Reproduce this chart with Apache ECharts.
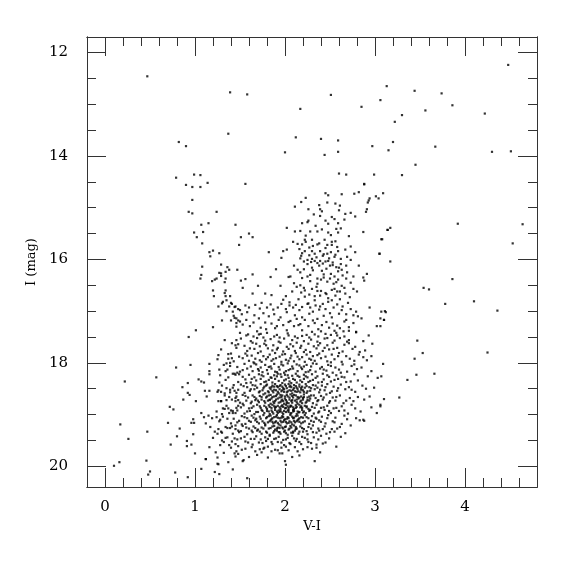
<!DOCTYPE html>
<html><head><meta charset="utf-8">
<script src="https://cdn.jsdelivr.net/npm/echarts@6/dist/echarts.min.js"></script>
<style>html,body{margin:0;padding:0;background:#fff}#chart{width:575px;height:575px}</style>
</head><body><div id="chart"></div>
<script>
// Tick values
const xMajor = [0, 1, 2, 3, 4];
const xMinor = [0.2,0.4,0.6,0.8,1.2,1.4,1.6,1.8,2.2,2.4,2.6,2.8,3.2,3.4,3.6,3.8,4.2,4.4,4.6];
const yMajor = [12, 14, 16, 18, 20];
const yMinor = [12.5,13,13.5,14.5,15,15.5,16.5,17,17.5,18.5,19,19.5];

// Stars brighter than I ~ 15
const brightStars = [[0.47,12.46],[1.39,12.77],[1.37,13.57],[0.82,13.73],[0.90,13.81],[0.79,14.42],[0.99,14.36],[1.06,14.37],[1.14,14.52],[0.90,14.56],[0.97,14.60],[1.06,14.60],
[1.58,12.81],[3.13,12.65],[2.51,12.82],[3.06,12.92],[2.17,13.09],[2.85,13.05],[2.12,13.64],[2.40,13.67],[2.59,13.70],[2.97,13.81],[3.15,13.89],[2.00,13.93],[2.44,13.98],[2.59,13.92],[2.60,14.34],[2.68,14.36],[2.99,14.36],[1.56,14.54],[2.88,14.54],
[4.48,12.24],[3.44,12.74],[3.74,12.79],[3.86,13.02],[3.56,13.12],[3.30,13.21],[4.22,13.18],[3.22,13.34],[3.20,13.73],[3.67,13.82],[4.30,13.92],[4.51,13.91],[3.45,14.17],[3.30,14.37],
[3.09,14.72],[0.97,14.85]];

// Blue plume
const bluePlume = [[0.93,15.08],[0.97,15.11],[1.24,15.08],[1.07,15.33],[1.15,15.30],[1.45,15.33],[0.99,15.48],[1.09,15.47],[1.02,15.57],[1.49,15.72],[1.08,15.69],[1.16,15.86],[1.20,15.83],[1.27,15.88],[1.17,15.94],
[1.08,16.14],[1.29,16.10],[1.36,16.15],[1.38,16.20],[1.34,16.24],[1.27,16.26],[1.29,16.27],[1.07,16.30],[1.29,16.32],[1.24,16.37],[1.34,16.37],[1.06,16.37],[1.22,16.39],[1.19,16.42],[1.33,16.44],[1.47,16.20],[1.51,16.41],
[1.20,16.60],[1.34,16.60],[1.33,16.65],[1.21,16.71],[1.34,16.71],[1.39,16.71],[1.35,16.79],[1.31,16.82],[1.30,16.85],[1.41,16.86],[1.38,16.91],[1.44,16.92],[1.26,16.91],[1.48,16.96],[1.35,17.00],[1.43,17.09],[1.52,17.06],[1.46,17.14],[1.30,17.18],[1.40,17.18],[1.46,17.23],[1.50,17.20],[1.46,17.30],[1.20,17.31],[1.01,17.37],[0.93,17.50]];

// Giant branch region
const giantBranch = [[2.88,14.55],[2.45,14.72],[2.48,14.76],[2.63,14.74],[2.77,14.73],[2.82,14.70],[2.23,14.81],[2.18,14.89],[2.11,14.98],[2.26,15.03],[2.39,15.03],[2.41,15.07],[2.56,14.92],[2.61,14.96],[2.93,14.86],[2.92,14.90],[2.94,14.82],[3.01,14.78],[3.04,14.82],[2.91,15.03],[2.90,15.08],
[2.32,15.13],[2.39,15.16],[2.26,15.25],[2.25,15.28],[2.19,15.30],[2.45,15.25],[2.52,15.18],[2.59,15.30],[2.66,15.23],[2.73,15.10],[2.78,15.17],[2.02,15.39],[2.11,15.46],[2.17,15.45],[2.23,15.54],[2.28,15.46],[2.36,15.46],[2.48,15.48],[2.51,15.53],[2.57,15.41],[2.59,15.48],[2.62,15.40],[2.87,15.47],[3.14,15.43],[3.08,15.61],
[1.51,15.57],[1.60,15.50],[1.64,15.57],[2.09,15.66],[2.14,15.70],[2.19,15.71],[2.22,15.62],[2.30,15.62],[2.36,15.71],[2.44,15.62],[2.47,15.72],[2.52,15.72],[2.56,15.65],[2.67,15.81],[2.73,15.75],[2.78,15.86],[2.82,16.12],[2.02,15.81],[1.98,15.84],[1.96,15.97],[1.82,15.86],
[2.16,15.80],[2.19,15.88],[2.22,15.84],[2.27,15.77],[2.30,15.84],[2.33,15.89],[2.39,15.84],[2.43,15.90],[2.47,15.89],[2.51,15.86],[2.55,15.95],[2.59,15.84],[2.17,15.98],[2.21,16.04],[2.25,16.01],[2.30,15.99],[2.33,16.03],[2.36,16.07],[2.39,16.03],[2.42,16.08],[2.45,16.04],[2.50,16.12],[2.53,16.11],[2.57,16.15],[2.60,16.16],[2.63,16.20],[2.68,16.12],[2.69,16.25],[2.73,16.01],[2.76,16.33],[2.91,16.28],[2.88,16.41],[3.05,15.89],
[2.10,16.12],[2.14,16.20],[2.17,16.25],[2.21,16.19],[2.25,16.33],[2.28,16.30],[2.31,16.21],[2.36,16.37],[2.40,16.39],[2.43,16.29],[2.47,16.43],[2.50,16.37],[2.54,16.47],[2.59,16.39],[2.63,16.51],[2.68,16.37],[2.04,16.34],[2.06,16.33],[1.90,16.19],[1.84,16.34],[1.56,16.38],[1.64,16.29],
[1.53,16.55],[1.64,16.66],[1.70,16.51],[1.78,16.66],[1.85,16.69],[1.95,16.51],[2.01,16.71],[2.10,16.46],[2.13,16.53],[2.17,16.50],[2.18,16.64],[2.22,16.60],[2.27,16.68],[2.30,16.57],[2.33,16.71],[2.36,16.61],[2.39,16.70],[2.45,16.65],[2.48,16.75],[2.52,16.59],[2.56,16.70],[2.61,16.62],[2.67,16.66],[2.72,16.73],[2.76,16.57],[2.94,16.93],[3.07,17.01],[3.11,17.00],[2.87,16.35],
[1.40,16.84],[1.45,16.91],[1.42,17.01],[1.50,16.98],[1.56,16.89],[1.60,16.93],[1.67,16.88],[1.72,16.95],[1.74,16.84],[1.80,16.93],[1.84,16.87],[1.87,16.97],[1.92,16.93],[1.96,16.86],[2.01,16.96],[2.05,16.89],[2.09,16.93],[2.12,16.88],[2.16,16.98],[2.19,16.92],[2.25,16.86],[2.28,16.93],[2.31,17.01],[2.34,16.89],[2.38,16.97],[2.42,16.86],[2.45,16.96],[2.50,17.04],[2.54,16.93],[2.58,16.87],[2.63,16.98],[2.68,17.06],[2.73,16.96],[2.76,17.08],[2.79,17.01],[2.81,17.10],[2.85,17.14],
[1.44,17.13],[1.48,17.18],[1.53,17.26],[1.57,17.17],[1.61,17.29],[1.65,17.22],[1.71,17.14],[1.73,17.32],[1.78,17.22],[1.82,17.10],[1.85,17.24],[1.89,17.33],[1.93,17.17],[1.98,17.27],[2.02,17.37],[2.06,17.19],[2.10,17.29],[2.13,17.15],[2.15,17.27],[2.19,17.37],[2.22,17.17],[2.26,17.29],[2.30,17.40],[2.33,17.23],[2.37,17.35],[2.41,17.27],[2.45,17.44],[2.49,17.32],[2.53,17.24],[2.57,17.42],[2.61,17.33],[2.66,17.20],[2.71,17.38],[2.76,17.23],[2.79,17.41],[2.93,17.47],[3.02,17.29],[3.10,17.17],
[1.50,17.42],[1.59,17.45],[1.65,17.49],[1.71,17.45],[1.76,17.51],[1.80,17.42],[1.91,17.46],[1.94,17.51],[2.04,17.47],[2.11,17.49],[2.24,17.46],[2.27,17.51],[2.37,17.49],[2.51,17.46],[2.66,17.49],
[2.23,15.66],[2.31,15.74],[2.38,15.69],[2.45,15.78],[2.52,15.66],[2.58,15.76],[2.27,15.92],[2.35,15.96],[2.42,15.93],[2.49,15.98],[2.56,15.91],[2.62,15.99],[2.25,16.09],[2.30,16.16],[2.38,16.12],[2.46,16.18],[2.53,16.06],[2.59,16.23],[2.19,16.36],[2.28,16.42],[2.36,16.47],[2.43,16.35],[2.51,16.28],[2.57,16.44],[2.64,16.31],[2.22,16.72],[2.33,16.79],[2.40,16.61],[2.48,16.82],[2.55,16.57],[2.61,16.77],[2.70,16.84],[2.15,16.77],[2.08,16.62],[2.05,16.83],[1.98,16.78],
[2.11,17.08],[2.19,17.12],[2.27,17.05],[2.36,17.15],[2.43,17.09],[2.52,17.12],[2.60,17.05],[2.68,17.17],[1.88,17.06],[1.95,17.12],[2.02,17.02],[1.76,17.04],[1.66,17.08],[1.58,17.02],[2.73,16.45],[2.80,16.62],[2.69,15.95],[2.71,15.55],[2.34,15.35],[2.41,15.42],[2.48,15.31],[2.55,15.22],[2.60,15.05],[2.67,15.12],[2.47,14.90],[2.38,14.95],
[2.18,15.93],[2.29,16.05],[2.41,16.22],[2.48,16.03],[2.55,16.33],[2.62,16.09],[2.21,16.55],[2.35,16.53],[2.46,16.67],[2.58,16.62],[2.66,16.55],[2.26,16.85],[2.39,16.91],[2.52,16.79],[2.64,16.91],[2.31,17.18],[2.46,17.21],[2.58,17.28],[2.71,17.31],[2.17,17.25],[2.04,17.21],[1.91,17.29],[1.79,17.35],[1.69,17.39],[2.40,17.39],[2.55,17.38]];

// Red field stars
const redField = [[3.92,15.31],[4.64,15.32],[3.17,15.39],[3.14,15.43],[3.07,15.61],[4.53,15.69],[3.05,15.89],[3.17,16.04],[3.86,16.38],[3.54,16.55],[3.60,16.58],[3.78,16.86],[4.10,16.81],[4.36,16.99],[3.12,17.02],[3.06,17.14],[3.10,17.17],[3.06,17.29],
[3.47,17.57],[3.53,17.81],[4.25,17.80],[3.44,17.92],[3.09,18.02],[3.07,18.26],[3.46,18.23],[3.66,18.21],[3.36,18.33],[3.27,18.67],[3.10,18.70],[3.06,18.81],[3.06,18.84],
[2.87,17.89],[2.96,17.87],[3.03,18.29],[2.90,18.50],[2.99,18.48],[3.02,18.97],[2.87,19.10],[2.83,19.11],[2.57,19.62],[2.79,17.40],[2.65,17.39]];

// Faint blue side
const faintBlue = [[0.79,18.09],[0.95,18.04],[0.57,18.28],[0.22,18.36],[0.86,18.47],[0.92,18.39],[0.92,18.58],[0.94,18.62],[0.87,18.71],[1.01,18.74],[0.72,18.85],[0.76,18.90],[0.70,19.16],[0.17,19.19],[0.96,19.16],[0.99,19.16],[0.83,19.27],[0.47,19.33],[0.80,19.42],[0.26,19.47],[0.91,19.51],[0.98,19.38],[0.73,19.58],[0.91,19.61],[0.96,19.58],[1.00,19.75],[0.46,19.89],[0.16,19.92],[0.10,19.99],[0.50,20.10],[0.48,20.16],[0.78,20.12],[0.92,20.21],[1.07,20.05],[1.12,19.86],[1.22,20.11],[1.27,20.15],[1.42,20.06],[1.26,19.96],[1.58,20.23],
[1.26,17.85],[1.35,18.01],[1.40,17.82],[1.45,17.66],[1.16,18.02],[1.16,18.16],[1.16,18.22],[1.27,18.13],[1.34,18.16],[1.37,17.92],[1.39,18.00],[1.42,18.21],[1.45,18.23],[1.04,18.32],[1.07,18.36],[1.10,18.38],[1.27,18.38],[1.11,18.54],[1.16,18.54],[1.25,18.56],[1.29,18.56],[1.33,18.59],[1.39,18.52],[1.44,18.54],[1.46,18.65],[1.13,18.65],[1.26,18.74],[1.29,18.74],[1.35,18.72],[1.45,18.74],
[1.07,18.97],[1.10,19.05],[1.15,19.02],[1.19,19.07],[1.24,19.05],[1.28,19.10],[1.30,18.99],[1.33,18.89],[1.37,18.88],[1.40,18.92],[1.42,18.97],[1.45,18.97],[1.48,18.83],[0.98,19.09],[1.12,19.17],[1.17,19.24],[1.22,19.33],[1.26,19.28],[1.30,19.35],[1.36,19.26],[1.41,19.23],[1.45,19.21],[1.48,19.31],[1.20,19.45],[1.25,19.37],[1.30,19.50],[1.34,19.45],[1.44,19.46],[1.48,19.61],[1.16,19.63],[1.23,19.73],[1.28,19.59],[1.38,19.59],[1.44,19.75],[1.12,19.86],[1.25,19.83],[1.25,19.95],[1.32,19.74],[1.37,19.92],[1.45,19.81]];

// Dense main-sequence turnoff core
const mainCore = [[1.33,17.56],[1.51,17.53],[1.62,17.58],[1.69,17.52],[1.78,17.57],[1.84,17.54],[1.93,17.59],[1.99,17.53],[2.08,17.56],[2.14,17.52],[2.21,17.58],[2.29,17.55],[2.36,17.59],[2.44,17.53],[2.55,17.57],[2.61,17.52],[2.71,17.56],[2.87,17.58],
[1.41,17.62],[1.55,17.67],[1.64,17.61],[1.72,17.68],[1.77,17.63],[1.87,17.66],[1.95,17.61],[2.02,17.69],[2.06,17.64],[2.13,17.61],[2.18,17.67],[2.26,17.63],[2.32,17.68],[2.39,17.62],[2.47,17.66],[2.53,17.61],[2.66,17.65],[2.78,17.69],[2.97,17.63],
[1.29,17.74],[1.46,17.71],[1.58,17.77],[1.66,17.73],[1.73,17.78],[1.81,17.72],[1.86,17.76],[1.92,17.71],[1.98,17.78],[2.04,17.73],[2.11,17.77],[2.17,17.71],[2.23,17.75],[2.28,17.79],[2.35,17.72],[2.42,17.77],[2.49,17.74],[2.58,17.71],[2.64,17.78],[2.75,17.73],[2.89,17.76],
[1.37,17.83],[1.49,17.88],[1.56,17.82],[1.63,17.86],[1.70,17.81],[1.76,17.87],[1.83,17.84],[1.89,17.81],[1.94,17.88],[2.00,17.83],[2.07,17.86],[2.12,17.81],[2.19,17.89],[2.24,17.84],[2.31,17.87],[2.38,17.82],[2.45,17.88],[2.52,17.84],[2.60,17.81],[2.68,17.87],[2.82,17.84],
[1.25,17.93],[1.43,17.97],[1.53,17.91],[1.60,17.96],[1.67,17.92],[1.74,17.98],[1.79,17.93],[1.85,17.96],[1.90,17.91],[1.96,17.98],[2.01,17.94],[2.06,17.91],[2.10,17.97],[2.16,17.93],[2.22,17.98],[2.27,17.92],[2.33,17.96],[2.40,17.91],[2.47,17.97],[2.55,17.93],[2.63,17.98],[2.72,17.92],[2.91,17.95],
[1.32,18.04],[1.47,18.08],[1.55,18.02],[1.62,18.07],[1.68,18.03],[1.73,18.09],[1.78,18.04],[1.84,18.07],[1.88,18.02],[1.93,18.08],[1.98,18.05],[2.03,18.01],[2.08,18.07],[2.13,18.03],[2.18,18.09],[2.24,18.04],[2.29,18.07],[2.35,18.02],[2.41,18.08],[2.48,18.04],[2.56,18.09],[2.64,18.03],[2.74,18.06],[2.85,18.09],
[1.36,18.13],[1.50,18.17],[1.58,18.11],[1.64,18.16],[1.70,18.12],[1.75,18.18],[1.80,18.14],[1.85,18.11],[1.89,18.17],[1.94,18.13],[1.99,18.19],[2.04,18.14],[2.09,18.11],[2.14,18.16],[2.19,18.12],[2.23,18.18],[2.28,18.14],[2.34,18.17],[2.39,18.11],[2.46,18.15],[2.53,18.19],[2.60,18.13],[2.69,18.17],[2.80,18.12],[2.96,18.16],
[1.28,18.24],[1.44,18.21],[1.53,18.27],[1.60,18.23],[1.66,18.28],[1.71,18.22],[1.76,18.26],[1.81,18.21],[1.84,18.28],[1.88,18.24],[1.92,18.21],[1.96,18.27],[2.00,18.23],[2.04,18.29],[2.08,18.25],[2.12,18.21],[2.16,18.27],[2.21,18.23],[2.25,18.28],[2.30,18.22],[2.36,18.26],[2.42,18.21],[2.49,18.27],[2.57,18.24],[2.66,18.28],[2.77,18.22],[2.92,18.26],
[1.34,18.33],[1.48,18.37],[1.56,18.32],[1.62,18.38],[1.68,18.34],[1.73,18.31],[1.77,18.37],[1.82,18.33],[1.86,18.38],[1.89,18.31],[1.93,18.35],[1.97,18.39],[2.01,18.32],[2.05,18.36],[2.09,18.31],[2.13,18.38],[2.17,18.34],[2.21,18.31],[2.26,18.37],[2.31,18.33],[2.37,18.38],[2.43,18.32],[2.51,18.36],[2.59,18.31],[2.68,18.37],[2.81,18.34],
[1.30,18.44],[1.42,18.48],[1.51,18.42],[1.58,18.47],[1.64,18.43],[1.69,18.48],[1.73,18.41],[1.77,18.46],[1.80,18.42],[1.83,18.48],[1.86,18.44],[1.89,18.41],[1.92,18.47],[1.95,18.43],[1.98,18.49],[2.01,18.45],[2.04,18.41],[2.07,18.47],[2.10,18.43],[2.13,18.48],[2.16,18.42],[2.19,18.46],[2.23,18.41],[2.27,18.47],[2.31,18.43],[2.36,18.48],[2.41,18.44],[2.47,18.41],[2.54,18.46],[2.62,18.42],[2.71,18.47],[2.86,18.44],[1.88,18.46],[1.94,18.45],[2.00,18.42],[2.06,18.44],[2.12,18.45],[2.18,18.49],[2.24,18.45],
[1.26,18.53],[1.39,18.57],[1.48,18.52],[1.55,18.58],[1.61,18.54],[1.66,18.51],[1.71,18.57],[1.75,18.53],[1.78,18.59],[1.81,18.55],[1.84,18.51],[1.87,18.57],[1.90,18.53],[1.93,18.59],[1.96,18.55],[1.99,18.51],[2.02,18.57],[2.05,18.53],[2.08,18.59],[2.11,18.55],[2.14,18.51],[2.17,18.57],[2.20,18.53],[2.24,18.58],[2.28,18.54],[2.33,18.51],[2.38,18.57],[2.44,18.53],[2.50,18.58],[2.58,18.54],[2.67,18.51],[2.78,18.56],[1.86,18.54],[1.92,18.56],[1.97,18.53],[2.03,18.55],[2.09,18.52],[2.15,18.55],[2.21,18.56],
[1.33,18.63],[1.45,18.68],[1.53,18.62],[1.59,18.67],[1.64,18.63],[1.68,18.69],[1.72,18.64],[1.76,18.61],[1.79,18.67],[1.82,18.63],[1.85,18.69],[1.88,18.65],[1.91,18.61],[1.94,18.67],[1.97,18.63],[2.00,18.69],[2.03,18.65],[2.06,18.61],[2.09,18.67],[2.12,18.63],[2.15,18.69],[2.18,18.65],[2.21,18.61],[2.25,18.67],[2.29,18.63],[2.34,18.68],[2.40,18.64],[2.46,18.61],[2.53,18.67],[2.61,18.63],[2.72,18.68],[2.94,18.65],[1.84,18.62],[1.90,18.64],[1.96,18.66],[2.02,18.62],[2.08,18.64],[2.14,18.66],[2.20,18.68],[2.27,18.65],
[1.29,18.74],[1.41,18.71],[1.50,18.77],[1.57,18.73],[1.62,18.78],[1.67,18.72],[1.71,18.76],[1.74,18.71],[1.78,18.77],[1.81,18.73],[1.84,18.79],[1.87,18.75],[1.90,18.71],[1.93,18.77],[1.96,18.73],[1.99,18.79],[2.02,18.75],[2.05,18.71],[2.08,18.77],[2.11,18.73],[2.14,18.79],[2.17,18.75],[2.20,18.71],[2.23,18.77],[2.27,18.73],[2.31,18.78],[2.36,18.74],[2.42,18.71],[2.49,18.77],[2.56,18.73],[2.65,18.78],[2.76,18.74],[2.88,18.71],[1.83,18.72],[1.89,18.74],[1.95,18.76],[2.01,18.72],[2.07,18.74],[2.13,18.76],[2.19,18.78],[2.25,18.72],[1.98,18.74],[2.04,18.78],
[1.35,18.83],[1.46,18.87],[1.54,18.82],[1.60,18.88],[1.65,18.84],[1.69,18.81],[1.73,18.87],[1.77,18.83],[1.80,18.89],[1.83,18.85],[1.86,18.81],[1.89,18.87],[1.92,18.83],[1.95,18.89],[1.98,18.85],[2.01,18.81],[2.04,18.87],[2.07,18.83],[2.10,18.89],[2.13,18.85],[2.16,18.81],[2.19,18.87],[2.22,18.83],[2.26,18.89],[2.30,18.85],[2.35,18.81],[2.40,18.87],[2.47,18.83],[2.54,18.88],[2.63,18.84],[2.74,18.81],[2.96,18.86],[1.82,18.82],[1.88,18.84],[1.94,18.86],[2.00,18.88],[2.06,18.85],[2.12,18.82],[2.18,18.84],[2.24,18.86],[1.97,18.82],[2.03,18.84],[2.09,18.86],
[1.24,18.94],[1.38,18.97],[1.47,18.92],[1.55,18.98],[1.61,18.93],[1.66,18.99],[1.70,18.95],[1.74,18.91],[1.77,18.97],[1.80,18.93],[1.83,18.99],[1.86,18.95],[1.89,18.91],[1.92,18.97],[1.95,18.93],[1.98,18.99],[2.01,18.95],[2.04,18.91],[2.07,18.97],[2.10,18.93],[2.13,18.99],[2.16,18.95],[2.19,18.91],[2.23,18.97],[2.27,18.93],[2.32,18.98],[2.38,18.94],[2.44,18.91],[2.51,18.97],[2.60,18.93],[2.70,18.98],[2.84,18.94],[1.85,18.92],[1.91,18.94],[1.97,18.96],[2.03,18.92],[2.09,18.94],[2.15,18.96],[2.21,18.94],[1.94,18.95],[2.06,18.98],
[1.31,19.04],[1.43,19.08],[1.52,19.03],[1.58,19.07],[1.63,19.02],[1.68,19.08],[1.72,19.04],[1.76,19.01],[1.79,19.07],[1.82,19.03],[1.85,19.09],[1.88,19.05],[1.91,19.01],[1.94,19.07],[1.97,19.03],[2.00,19.09],[2.03,19.05],[2.06,19.01],[2.09,19.07],[2.12,19.03],[2.15,19.09],[2.18,19.05],[2.22,19.01],[2.26,19.07],[2.30,19.03],[2.35,19.08],[2.41,19.04],[2.48,19.01],[2.56,19.06],[2.66,19.02],[2.79,19.07],[1.84,19.02],[1.90,19.04],[1.96,19.06],[2.02,19.08],[2.08,19.04],[2.14,19.02],[2.20,19.06],
[1.27,19.13],[1.40,19.17],[1.49,19.12],[1.56,19.18],[1.62,19.14],[1.67,19.11],[1.71,19.17],[1.75,19.13],[1.78,19.19],[1.81,19.15],[1.84,19.11],[1.87,19.17],[1.90,19.13],[1.93,19.19],[1.96,19.15],[1.99,19.11],[2.02,19.17],[2.05,19.13],[2.08,19.19],[2.11,19.15],[2.14,19.11],[2.18,19.17],[2.22,19.13],[2.27,19.18],[2.32,19.14],[2.38,19.11],[2.45,19.17],[2.53,19.13],[2.63,19.18],[2.88,19.12],[1.86,19.14],[1.92,19.16],[1.98,19.14],[2.04,19.16],[2.10,19.12],[2.16,19.14],
[1.34,19.24],[1.45,19.28],[1.53,19.22],[1.60,19.27],[1.65,19.23],[1.70,19.29],[1.74,19.25],[1.78,19.21],[1.82,19.27],[1.86,19.23],[1.89,19.29],[1.92,19.25],[1.95,19.21],[1.98,19.27],[2.01,19.23],[2.04,19.29],[2.07,19.25],[2.10,19.21],[2.13,19.27],[2.17,19.23],[2.21,19.28],[2.26,19.24],[2.31,19.21],[2.37,19.27],[2.44,19.23],[2.52,19.28],[2.61,19.24],[2.73,19.21],[1.88,19.22],[1.94,19.26],[2.00,19.24],[2.06,19.22],[2.12,19.24],
[1.29,19.33],[1.42,19.37],[1.51,19.32],[1.58,19.38],[1.64,19.34],[1.69,19.31],[1.74,19.37],[1.79,19.33],[1.83,19.39],[1.87,19.35],[1.91,19.31],[1.95,19.37],[1.99,19.33],[2.03,19.39],[2.07,19.35],[2.11,19.31],[2.15,19.37],[2.20,19.33],[2.25,19.38],[2.31,19.34],[2.38,19.31],[2.46,19.37],[2.55,19.33],[2.67,19.36],[1.93,19.34],[2.01,19.36],[2.09,19.33],
[1.36,19.44],[1.47,19.48],[1.55,19.43],[1.62,19.47],[1.68,19.42],[1.73,19.48],[1.78,19.44],[1.83,19.41],[1.88,19.47],[1.93,19.43],[1.98,19.49],[2.03,19.45],[2.08,19.41],[2.13,19.47],[2.19,19.43],[2.25,19.48],[2.32,19.44],[2.40,19.41],[2.49,19.46],[2.62,19.43],
[1.32,19.53],[1.45,19.57],[1.56,19.52],[1.64,19.58],[1.71,19.54],[1.79,19.51],[1.86,19.57],[1.92,19.53],[1.99,19.59],[2.05,19.55],[2.12,19.51],[2.18,19.57],[2.26,19.53],[2.35,19.58],[2.45,19.54],
[1.40,19.64],[1.52,19.68],[1.63,19.63],[1.72,19.67],[1.81,19.62],[1.89,19.68],[1.96,19.64],[2.04,19.69],[2.11,19.63],[2.20,19.67],[2.30,19.66],[2.35,19.64],
[1.48,19.76],[1.60,19.82],[1.69,19.78],[1.85,19.71],[1.94,19.75],[1.97,19.75],[2.08,19.82],[2.16,19.79],[2.39,19.73],[2.33,19.90],[1.81,19.83],[2.00,19.90],[2.01,19.97],[1.54,19.88],[1.53,19.90],[1.74,19.73],[1.76,19.66]];

// Additional core stars (irregular spread)
const coreExtra = [[1.57,17.47],[1.73,17.44],[1.88,17.49],[2.03,17.43],[2.19,17.48],[2.33,17.45],[2.47,17.52],[2.58,17.47],[1.46,17.56],[2.69,17.59],
[1.48,17.64],[1.61,17.72],[1.79,17.66],[1.91,17.74],[2.09,17.68],[2.21,17.79],[2.37,17.66],[2.54,17.73],[2.71,17.62],[1.68,17.63],[2.44,17.71],[2.83,17.79],
[1.41,17.91],[1.58,17.86],[1.72,17.95],[1.81,17.89],[1.97,17.84],[2.04,17.96],[2.14,17.88],[2.29,17.94],[2.36,17.85],[2.51,17.99],[2.59,17.87],[2.77,17.96],[1.65,17.99],[1.87,17.93],
[1.39,18.06],[1.53,18.14],[1.66,18.01],[1.71,18.15],[1.82,18.08],[1.91,18.18],[1.96,18.03],[2.06,18.12],[2.16,18.05],[2.26,18.17],[2.31,18.01],[2.43,18.13],[2.51,18.06],[2.62,18.19],[2.77,18.03],[1.47,18.19],[2.01,18.16],[2.21,18.07],
[1.37,18.28],[1.49,18.22],[1.63,18.31],[1.74,18.24],[1.79,18.36],[1.85,18.29],[1.91,18.26],[1.99,18.34],[2.03,18.24],[2.11,18.33],[2.14,18.25],[2.19,18.37],[2.23,18.26],[2.28,18.35],[2.34,18.29],[2.41,18.37],[2.47,18.24],[2.55,18.33],[2.63,18.27],[2.73,18.36],[1.57,18.39],[1.95,18.22],[2.07,18.39],
[1.35,18.49],[1.46,18.58],[1.54,18.45],[1.62,18.51],[1.67,18.44],[1.72,18.55],[1.76,18.49],[1.79,18.44],[1.82,18.57],[1.85,18.47],[1.88,18.52],[1.91,18.45],[1.94,18.51],[1.97,18.46],[1.99,18.56],[2.02,18.49],[2.05,18.46],[2.07,18.54],[2.10,18.49],[2.13,18.56],[2.16,18.46],[2.18,18.52],[2.22,18.48],[2.25,18.55],[2.29,18.49],[2.34,18.44],[2.39,18.52],[2.45,18.47],[2.52,18.55],[2.59,18.49],[2.74,18.52],[1.43,18.43],
[1.38,18.66],[1.48,18.72],[1.56,18.64],[1.63,18.75],[1.66,18.66],[1.70,18.73],[1.74,18.66],[1.77,18.74],[1.80,18.65],[1.83,18.71],[1.86,18.66],[1.88,18.78],[1.92,18.69],[1.95,18.62],[1.97,18.71],[2.00,18.65],[2.02,18.78],[2.05,18.67],[2.08,18.72],[2.10,18.62],[2.13,18.71],[2.16,18.67],[2.18,18.73],[2.21,18.66],[2.24,18.75],[2.28,18.69],[2.32,18.63],[2.37,18.72],[2.43,18.67],[2.50,18.74],[2.57,18.66],[2.68,18.73],[2.81,18.66],[1.53,18.79],
[1.31,18.88],[1.42,18.93],[1.51,18.86],[1.58,18.94],[1.63,18.87],[1.68,18.95],[1.72,18.84],[1.75,18.93],[1.79,18.86],[1.82,18.94],[1.85,18.87],[1.87,18.98],[1.90,18.85],[1.93,18.92],[1.96,18.84],[1.99,18.93],[2.01,18.87],[2.04,18.95],[2.06,18.83],[2.09,18.91],[2.12,18.87],[2.14,18.94],[2.17,18.86],[2.20,18.96],[2.24,18.84],[2.28,18.91],[2.33,18.87],[2.37,18.96],[2.43,18.86],[2.49,18.93],[2.57,18.87],[2.66,18.92],[2.78,18.88],
[1.36,19.08],[1.47,19.15],[1.55,19.05],[1.60,19.12],[1.65,19.06],[1.69,19.14],[1.73,19.08],[1.77,19.16],[1.80,19.05],[1.83,19.13],[1.86,19.07],[1.89,19.15],[1.92,19.06],[1.95,19.12],[1.98,19.05],[2.01,19.14],[2.04,19.07],[2.07,19.15],[2.10,19.06],[2.13,19.13],[2.16,19.07],[2.20,19.15],[2.24,19.05],[2.29,19.12],[2.34,19.06],[2.40,19.14],[2.47,19.07],[2.55,19.15],[2.69,19.09],[1.52,19.19],
[1.39,19.26],[1.49,19.34],[1.57,19.25],[1.63,19.31],[1.67,19.26],[1.72,19.33],[1.76,19.27],[1.80,19.35],[1.84,19.26],[1.88,19.32],[1.91,19.27],[1.94,19.34],[1.97,19.25],[2.00,19.31],[2.05,19.27],[2.09,19.35],[2.12,19.28],[2.16,19.33],[2.19,19.26],[2.24,19.32],[2.29,19.27],[2.35,19.35],[2.42,19.28],[2.50,19.34],[2.58,19.27],
[1.41,19.52],[1.51,19.46],[1.59,19.54],[1.66,19.47],[1.75,19.55],[1.81,19.47],[1.85,19.53],[1.90,19.46],[1.96,19.54],[2.01,19.48],[2.06,19.57],[2.10,19.46],[2.16,19.53],[2.22,19.45],[2.29,19.55],[2.37,19.48],[2.42,19.56],
[1.56,19.66],[1.67,19.71],[1.77,19.64],[1.92,19.69],[2.01,19.62],[2.14,19.71],[2.25,19.63],[1.46,19.71]];

const serif = 'DejaVu Serif';
const lineCol = '#333';
function xAx(pos, ticks, len, labels, extra) {
  return Object.assign({
    type: 'value', position: pos, min: -0.2, max: 4.8,
    axisLine: { show: true, onZero: false, lineStyle: { color: lineCol, width: 1 } },
    axisTick: { show: true, inside: true, length: len, customValues: ticks, lineStyle: { color: lineCol, width: 1 } },
    axisLabel: labels ? { show: true, customValues: ticks, margin: 13, fontFamily: serif, fontSize: 15, color: '#000' } : { show: false },
    splitLine: { show: false }
  }, extra || {});
}
function yAx(pos, ticks, len, labels, extra) {
  return Object.assign({
    type: 'value', position: pos, min: 11.7, max: 20.4, inverse: true,
    axisLine: { show: true, onZero: false, lineStyle: { color: lineCol, width: 1 } },
    axisTick: { show: true, inside: true, length: len, customValues: ticks, lineStyle: { color: lineCol, width: 1 } },
    axisLabel: labels ? { show: true, customValues: ticks, margin: 19, fontFamily: serif, fontSize: 15, color: '#000' } : { show: false },
    splitLine: { show: false }
  }, extra || {});
}

const chart = echarts.init(document.getElementById('chart'), null, { renderer: 'canvas' });
const groups = [brightStars, bluePlume, giantBranch, redField, faintBlue, mainCore, coreExtra];
chart.setOption({
  animation: false,
  backgroundColor: '#fff',
  grid: { left: 87, right: 38, top: 37, bottom: 88, containLabel: false },
  xAxis: [
    xAx('bottom', xMajor, 19, true, { name: 'V-I', nameLocation: 'middle', nameGap: 30, nameTextStyle: { fontFamily: serif, fontSize: 13, color: '#000' } }),
    xAx('bottom', xMinor, 9, false),
    xAx('top', xMajor, 19, false),
    xAx('top', xMinor, 9, false)
  ],
  yAxis: [
    yAx('left', yMajor, 19, true, { name: 'I (mag)', nameLocation: 'middle', nameGap: 48, nameRotate: 90, nameTextStyle: { fontFamily: serif, fontSize: 13, color: '#000' } }),
    yAx('left', yMinor, 9, false),
    yAx('right', yMajor, 19, false),
    yAx('right', yMinor, 9, false)
  ],
  series: groups.map(g => ({
    type: 'scatter', xAxisIndex: 0, yAxisIndex: 0, data: g,
    symbol: 'rect', symbolSize: 2.2, silent: true,
    itemStyle: { color: '#000' }
  }))
});
</script></body></html>
